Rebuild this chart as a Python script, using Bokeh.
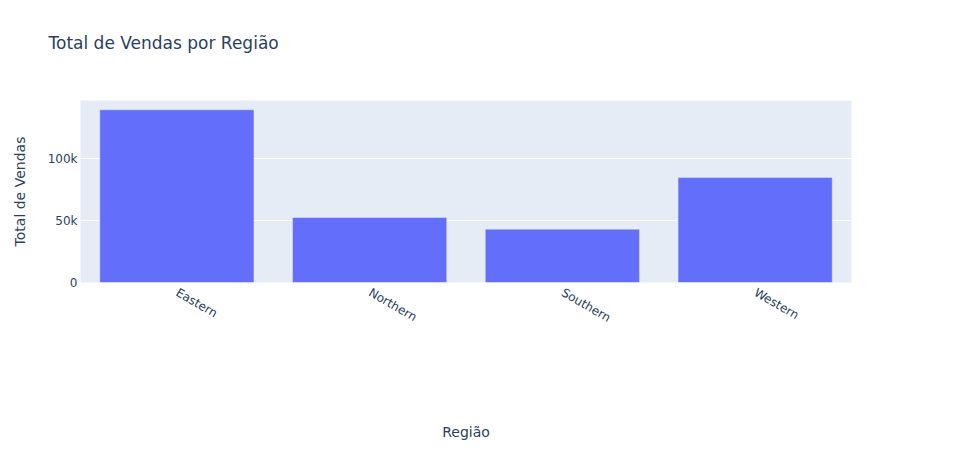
import math
from bokeh.plotting import figure
from bokeh.models import FactorRange, Range1d, FixedTicker, Title
from bokeh.embed import file_html
from bokeh.resources import INLINE

regions = ["Eastern", "Northern", "Southern", "Western"]
total_sales = [139500, 52500, 43100, 84900]
y_ticks = [0, 50000, 100000]
y_tick_labels = ["0", "50k", "100k"]
title_text = "Total de Vendas por Região"
x_title = "Região"
y_title = "Total de Vendas"

FONT = "DejaVu Sans"
TXT = "#2a3f5f"

p = figure(
    width=968, height=450, title=None,
    x_range=FactorRange(*regions, range_padding=0),
    y_range=Range1d(0, 147000),
    output_backend="svg", toolbar_location=None,
    min_border_left=80, min_border_right=117,
    min_border_top=100, min_border_bottom=168,
)

# spacer between frame and title (closest to frame)
p.add_layout(Title(text=" ", text_font_size="1px", standoff=40), "above")
p.add_layout(Title(text=title_text, text_font=FONT, text_font_size="17px",
                   text_font_style="normal", text_color=TXT, align="left",
                   offset=-32, standoff=10), "above")

p.background_fill_color = "#E5ECF6"
p.border_fill_color = "white"
p.outline_line_color = None

p.vbar(x=regions, top=total_sales, width=0.8, fill_color="#636EFA",
       line_color="#E5ECF6", line_width=0.5)

p.xgrid.grid_line_color = None
p.ygrid.grid_line_color = "white"
p.ygrid.grid_line_width = 1

for ax in (p.xaxis[0], p.yaxis[0]):
    ax.axis_line_color = None
    ax.major_tick_line_color = None
    ax.minor_tick_line_color = None
    ax.major_tick_out = 0
    ax.major_tick_in = 0
    ax.major_label_text_font = FONT
    ax.major_label_text_font_size = "12px"
    ax.major_label_text_color = TXT
    ax.axis_label_text_font = FONT
    ax.axis_label_text_font_size = "14px"
    ax.axis_label_text_font_style = "normal"
    ax.axis_label_text_color = TXT

p.yaxis.ticker = FixedTicker(ticks=y_ticks)
p.yaxis.major_label_overrides = {t: l for t, l in zip(y_ticks, y_tick_labels)}
p.yaxis.major_label_standoff = 3
p.yaxis.axis_label = y_title
p.yaxis.axis_label_standoff = 17

p.xaxis.major_label_orientation = -math.pi / 6
p.xaxis.major_label_standoff = 9
p.xaxis.axis_label = x_title
p.xaxis.axis_label_standoff = 90

open("out.html", "w").write(file_html(p, INLINE))
